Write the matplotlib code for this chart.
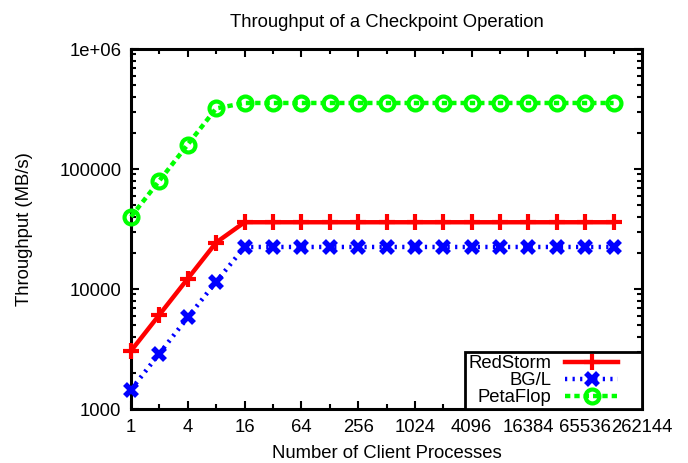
import matplotlib
matplotlib.use("Agg")
import matplotlib.pyplot as plt
from matplotlib.ticker import FixedLocator, FixedFormatter, NullFormatter
from matplotlib.offsetbox import DrawingArea

plt.rcParams['font.family'] = ['Liberation Sans', 'DejaVu Sans']
plt.rcParams['font.size'] = 13.3

# data
clients = [1, 2, 4, 8, 16, 32, 64, 128, 256, 512, 1024, 2048, 4096,
           8192, 16384, 32768, 65536, 131072]
redstorm = [3050, 6100, 12200, 24400, 36000, 36000, 36000, 36000, 36000,
            36000, 36000, 36000, 36000, 36000, 36000, 36000, 36000, 36000]
bgl = [1450, 2900, 5800, 11500, 22400, 22400, 22400, 22400, 22400,
       22400, 22400, 22400, 22400, 22400, 22400, 22400, 22400, 22400]
petaflop = [40000, 80000, 160000, 320000, 355000, 355000, 355000, 355000,
            355000, 355000, 355000, 355000, 355000, 355000, 355000, 355000,
            355000, 355000]

xticks = [1, 4, 16, 64, 256, 1024, 4096, 16384, 65536, 262144]
xticklabels = ["1", "4", "16", "64", "256", "1024", "4096", "16384",
               "65536", "262144"]
xminor = [2, 8, 32, 128, 512, 2048, 8192, 32768, 131072]
yticks = [1000, 10000, 100000, 1000000]
yticklabels = ["1000", "10000", "100000", "1e+06"]

fig = plt.figure(figsize=(6.88, 4.63), dpi=100)
ax = fig.add_axes([131 / 688, 1 - 409 / 463, 511 / 688, 360 / 463])

ax.plot(clients, redstorm, color="#ff0000", lw=3.2, marker="+", ms=11,
        mew=3, label="RedStorm", clip_on=False, zorder=3)
ax.plot(clients, bgl, color="#0000ff", lw=3.2, ls=(0, (0.5, 1.2)),
        marker="x", ms=9, mew=4, label="BG/L", clip_on=False, zorder=3)
ax.plot(clients, petaflop, color="#00ff00", lw=3.2, ls=(0, (1.2, 0.9)),
        marker="o", ms=10, mew=3, mfc="none", label="PetaFlop",
        clip_on=False, zorder=3)

ax.set_xscale("log", base=2)
ax.set_yscale("log")
ax.set_xlim(1, 262144)
ax.set_ylim(1000, 1000000)

ax.xaxis.set_major_locator(FixedLocator(xticks))
ax.xaxis.set_major_formatter(FixedFormatter(xticklabels))
ax.xaxis.set_minor_locator(FixedLocator(xminor))
ax.xaxis.set_minor_formatter(NullFormatter())
ax.yaxis.set_major_locator(FixedLocator(yticks))
ax.yaxis.set_major_formatter(FixedFormatter(yticklabels))
yminor = [m * d for d in [1000, 10000, 100000] for m in range(2, 10)]
ax.yaxis.set_minor_locator(FixedLocator(yminor))
ax.yaxis.set_minor_formatter(NullFormatter())

ax.tick_params(which="both", direction="in", top=True, right=True, width=1.5)
ax.tick_params(which="major", length=6, pad=7)
ax.tick_params(which="minor", length=3.5)
for s in ax.spines.values():
    s.set_linewidth(2.2)

ax.set_title("Throughput of a Checkpoint Operation", fontsize=13.3, pad=16)
ax.set_xlabel("Number of Client Processes", labelpad=7)
ax.set_ylabel("Throughput (MB/s)", labelpad=19)

leg = ax.legend(loc="lower right", markerfirst=False, fancybox=False,
                borderaxespad=0, borderpad=0.15, labelspacing=0.0,
                handlelength=2.9, handletextpad=0.75, numpoints=1,
                framealpha=1)
leg.set_zorder(5)
leg.get_frame().set_edgecolor("black")
leg.get_frame().set_linewidth(2)
for col in leg._legend_handle_box.get_children():
    col.align = "right"
    for row in col.get_children():
        row.get_children().append(DrawingArea(5, 1))

fig.savefig("out.png", dpi=100)
